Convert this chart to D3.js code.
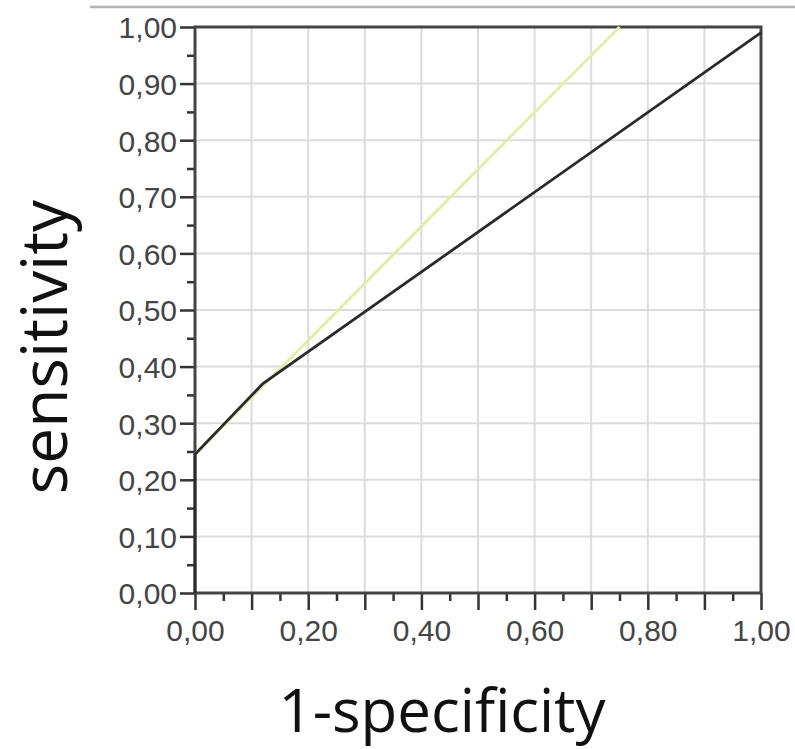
<!DOCTYPE html>
<html>
<head>
<meta charset="utf-8">
<script src="https://cdn.jsdelivr.net/npm/d3@7"></script>
<style>
  body { margin: 0; background: #fff; }
  svg { display: block; }
</style>
</head>
<body>
<svg id="roc_svg" width="795" height="749"></svg>
<script>
// data
var rocX = [0, 0, 0.12, 1],
	rocY = [0, 0.245, 0.37, 0.99];
var tanX = [0, 0.75],
	tanY = [0.245, 1.0];
var majorTicks = [0, 0.1, 0.2, 0.3, 0.4, 0.5, 0.6, 0.7, 0.8, 0.9, 1.0],
	minorTicks = [0.05, 0.15, 0.25, 0.35, 0.45, 0.55, 0.65, 0.75, 0.85, 0.95],
	xLabelTicks = [0, 0.2, 0.4, 0.6, 0.8, 1.0];
var xTitle = "1-specificity",
	yTitle = "sensitivity";

var margin = {top: 27, right: 34, bottom: 156, left: 195},
	width = 795 - margin.left - margin.right,
	height = 749 - margin.top - margin.bottom;

var svg = d3.select("#roc_svg");

var locale = d3.formatLocale({decimal: ",", thousands: ".", grouping: [3], currency: ["", ""]});
var fmt = locale.format(".2f");

var x = d3.scaleLinear().domain([0, 1]).range([0, width]);
var y = d3.scaleLinear().domain([0, 1]).range([height, 0]);

// thin rule at the top of the picture
svg.append("line")
	.attr("x1", 90).attr("x2", 795)
	.attr("y1", 7).attr("y2", 7)
	.style("stroke", "#b4b4b4")
	.style("stroke-width", 2.5);

var g = svg.append("g")
	.attr("transform", "translate(" + margin.left + "," + margin.top + ")");

// grid
g.append("g").selectAll("line").data(majorTicks.slice(1, -1)).enter().append("line")
	.attr("x1", function(d){ return x(d); }).attr("x2", function(d){ return x(d); })
	.attr("y1", 0).attr("y2", height)
	.style("stroke", "#dcdcdc").style("stroke-width", 2);
g.append("g").selectAll("line").data(majorTicks.slice(1, -1)).enter().append("line")
	.attr("y1", function(d){ return y(d); }).attr("y2", function(d){ return y(d); })
	.attr("x1", 0).attr("x2", width)
	.style("stroke", "#dcdcdc").style("stroke-width", 2);

// axes
var xMinor = g.append("g")
	.attr("transform", "translate(0," + height + ")")
	.call(d3.axisBottom(x).tickValues(minorTicks).tickSize(8).tickFormat(""));
var xMajor = g.append("g")
	.attr("transform", "translate(0," + height + ")")
	.call(d3.axisBottom(x).tickValues(majorTicks).tickSize(17).tickPadding(10)
		.tickFormat(function(d){ return xLabelTicks.indexOf(d) >= 0 ? fmt(d) : ""; }));
var yMinor = g.append("g")
	.call(d3.axisLeft(y).tickValues(minorTicks).tickSize(8).tickFormat(""));
var yMajor = g.append("g")
	.call(d3.axisLeft(y).tickValues(majorTicks).tickSize(15).tickPadding(3).tickFormat(fmt));

[xMinor, xMajor, yMinor, yMajor].forEach(function(a){
	a.select(".domain").remove();
	a.selectAll(".tick line").style("stroke", "#333").style("stroke-width", 2.5);
	a.selectAll("text")
		.style("font-family", "'Liberation Sans', Arial, sans-serif")
		.style("font-size", "30px")
		.style("fill", "#454545");
});
yMajor.selectAll("text").attr("dy", "0.36em");

// frame
g.append("rect")
	.attr("x", 0).attr("y", 0)
	.attr("width", width).attr("height", height)
	.style("fill", "none")
	.style("stroke", "#444")
	.style("stroke-width", 3);

var line = d3.line()
	.x(function(d){ return x(d[0]); })
	.y(function(d){ return y(d[1]); });

// tangent (yellow) under roc curve
g.append("path")
	.datum(d3.zip(tanX, tanY))
	.attr("d", line)
	.style("fill", "none")
	.style("stroke", "#e6ecaa")
	.style("stroke-width", 3);

g.append("path")
	.datum(d3.zip(rocX, rocY))
	.attr("d", line)
	.style("fill", "none")
	.style("stroke", "#2a2a2a")
	.style("stroke-width", 2.8);

// titles
svg.append("text")
	.attr("x", 442)
	.attr("y", 732)
	.attr("text-anchor", "middle")
	.text(xTitle)
	.style("font-family", "'Open Sans', sans-serif")
	.style("font-size", "60px")
	.style("fill", "#111");

svg.append("text")
	.attr("transform", "translate(67,347) rotate(-90)")
	.attr("text-anchor", "middle")
	.text(yTitle)
	.style("font-family", "'Open Sans', sans-serif")
	.style("font-size", "64px")
	.style("fill", "#111");
</script>
</body>
</html>
